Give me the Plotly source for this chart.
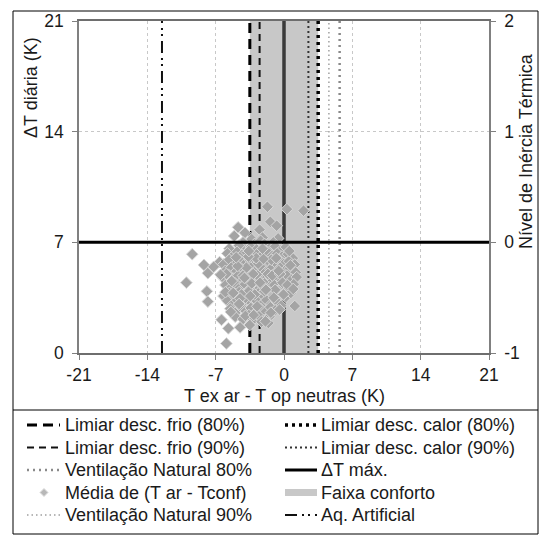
import plotly.graph_objects as go

# ---- data ----
x_ticks = [-21, -14, -7, 0, 7, 14, 21]
x_ticktext = ["-21", "-14", "-7", "0", "7", "14", "21"]
y_ticks = [0, 7, 14, 21]
y2_ticks = [-1, 0, 1, 2]
y2_ticktext = ["-1", "0", "1", "2"]

limiar_frio_80 = -3.5
limiar_frio_90 = -2.5
limiar_calor_90 = 2.5
limiar_calor_80 = 3.5
vent_nat_90 = 4.6
vent_nat_80 = 5.7
aq_artificial = -12.5
faixa_conforto = [-3.5, 3.5]
dt_max = 7
eixo_zero = 0

media_x = [
    -1.7, 0.3, 2.0, -1.4, -0.75, -4.7, -2.5, -4.0, -5.1, -2.2, -0.6, -3.3, -3.0, -1.1, -4.2, -2.4,
    -5.6, -4.6, -3.9, -3.4, -2.8, -2.0, -1.5, -0.9, -0.3, 0.2,
    -5.8, -5.3, -4.8, -4.3, -3.8, -3.2, -2.7, -2.2, -1.7, -1.2, -0.7, -0.2, 0.4, 0.9,
    -6.6, -6.2, -5.6, -5.0, -4.5, -4.0, -3.5, -3.0, -2.5, -2.0, -1.5, -1.0, -0.5, 0.0, 0.5, 1.1,
    -8.2, -7.2, -6.0, -5.4, -4.9, -4.4, -3.9, -3.4, -2.9, -2.4, -1.9, -1.4, -0.9, -0.4, 0.1, 0.6, 1.2,
    -7.8, -6.3, -5.7, -5.2, -4.7, -4.2, -3.7, -3.2, -2.7, -2.2, -1.7, -1.2, -0.7, -0.2, 0.3, 0.8, 1.3,
    -10.0, -6.0, -5.5, -5.0, -4.5, -4.0, -3.5, -3.0, -2.5, -2.0, -1.5, -1.0, -0.5, 0.0, 0.5, 1.0,
    -7.9, -6.2, -5.6, -5.1, -4.6, -4.1, -3.6, -3.1, -2.6, -2.1, -1.6, -1.1, -0.6, 0.2, 0.7,
    -7.8, -5.8, -5.3, -4.8, -4.3, -3.8, -3.3, -2.8, -2.3, -1.8, -1.3, -0.8, -0.3, 1.1,
    -5.5, -4.9, -4.4, -3.9, -3.4, -2.9, -2.4, -1.9, -1.4, -0.9,
    -6.4, -5.0, -4.2, -3.6, -3.0, -2.6, -2.0, -1.5,
    -5.7, -4.5, -3.5, -2.3, -1.6, -5.9,
    -9.4,
    -3.85, -3.15, -2.65, -1.65, -2.3, -3.3, -4.2, -1.2, -2.0, -3.0, -4.35, -0.9, -2.85, -1.3, -3.65, -4.75, -0.4, -2.1,
    -5.35, -4.05, -2.45, -0.15, 0.65, -5.9, -4.5, -3.45, -1.85, -0.55, 0.35, -6.0, -5.2, -2.75, -1.05,
    -4.9, -3.6, -2.2, -0.8, 0.55, -5.45, -3.95, -1.35, -0.05, -6.5, -4.6, -3.1, -1.9, -0.45, 0.95,
]
media_y = [
    9.25, 9.1, 9.0, 8.3, 8.05, 7.95, 7.8, 7.6, 7.4, 7.3, 7.25, 7.2, 6.9, 7.0, 7.0, 7.1,
    6.6, 6.8, 6.5, 6.7, 6.55, 6.9, 6.6, 6.75, 6.5, 6.7,
    6.3, 6.1, 6.4, 6.2, 6.35, 6.1, 6.3, 6.2, 6.4, 6.15, 6.3, 6.1, 6.25, 6.0,
    5.75, 5.6, 5.9, 5.6, 5.85, 5.65, 5.9, 5.6, 5.8, 5.55, 5.75, 5.6, 5.9, 5.65, 5.8, 5.6,
    5.57, 5.45, 5.2, 5.4, 5.15, 5.35, 5.1, 5.4, 5.2, 5.45, 5.1, 5.3, 5.05, 5.4, 5.2, 5.35, 5.1,
    5.05, 4.8, 4.95, 4.7, 4.9, 4.6, 4.85, 4.65, 4.9, 4.6, 4.8, 4.55, 4.85, 4.6, 4.9, 4.65, 4.8,
    4.45, 4.3, 4.1, 4.4, 4.15, 4.35, 4.05, 4.3, 4.1, 4.4, 4.15, 4.3, 4.0, 4.25, 4.1, 4.35,
    3.9, 3.6, 3.8, 3.55, 3.85, 3.6, 3.9, 3.65, 3.8, 3.55, 3.85, 3.6, 3.75, 3.55, 3.8,
    3.25, 3.3, 3.05, 3.35, 3.1, 3.4, 3.15, 3.3, 3.05, 3.35, 3.1, 3.3, 3.0, 2.97,
    2.8, 2.6, 2.9, 2.65, 2.85, 2.55, 2.8, 2.6, 2.9, 2.7,
    2.1, 2.3, 2.15, 2.4, 2.2, 2.35, 2.1, 2.3,
    1.56, 1.62, 1.77, 1.98, 1.9, 0.6,
    6.25,
    5.4, 5.0, 5.65, 5.0, 4.3, 4.4, 4.9, 4.9, 3.9, 3.7, 3.7, 4.0, 6.0, 5.9, 6.1, 5.5, 5.0, 5.95,
    4.55, 4.75, 4.45, 4.45, 5.55, 5.0, 3.45, 3.6, 4.0, 5.2, 4.3, 3.85, 3.8, 2.95, 3.5,
    6.05, 6.45, 6.6, 6.0, 6.45, 2.6, 2.35, 2.55, 3.7, 4.95, 3.1, 2.4, 2.0, 2.75, 4.05,
]

# legend labels: (label, column, row)
legend_items = [
    ("Limiar desc. frio (80%)", 0, 0),
    ("Limiar desc. frio (90%)", 0, 1),
    ("Ventilação Natural 80%", 0, 2),
    ("Média de (T ar - Tconf)", 0, 3),
    ("Ventilação Natural 90%", 0, 4),
    ("Limiar desc. calor (80%)", 1, 0),
    ("Limiar desc. calor (90%)", 1, 1),
    ("ΔT máx.", 1, 2),
    ("Faixa conforto", 1, 3),
    ("Aq. Artificial", 1, 4),
]

Y_RANGE = [0, 21]
Y2_RANGE = [-1, 2]
X_RANGE = [-21, 21]

# ---- styles ----
C_BAND = "#c8c8c8"
STYLES = {
    "Limiar desc. frio (80%)": dict(color="#000000", width=3, dash="10px,6px"),
    "Limiar desc. frio (90%)": dict(color="#111111", width=2, dash="7px,5px"),
    "Ventilação Natural 80%": dict(color="#8a8a8a", width=2.5, dash="2px,4px"),
    "Ventilação Natural 90%": dict(color="#a0a0a0", width=1.5, dash="1.5px,3px"),
    "Limiar desc. calor (80%)": dict(color="#000000", width=3.5, dash="3px,4px"),
    "Limiar desc. calor (90%)": dict(color="#333333", width=2, dash="2px,3px"),
    "ΔT máx.": dict(color="#000000", width=3, dash="solid"),
    "Faixa conforto": dict(color=C_BAND, width=7, dash="solid"),
    "Aq. Artificial": dict(color="#111111", width=2, dash="12px,5px,2px,4px,2px,5px"),
}
MARKER = dict(symbol="diamond", size=9, color="#a4a4a4", line=dict(color="#d8d8d8", width=1))

fig = go.Figure()

# comfort band
fig.add_trace(go.Scatter(
    x=[faixa_conforto[0], faixa_conforto[1], faixa_conforto[1], faixa_conforto[0]],
    y=[Y_RANGE[0], Y_RANGE[0], Y_RANGE[1], Y_RANGE[1]],
    fill="toself", fillcolor=C_BAND, mode="lines", line=dict(width=0),
    name="Faixa conforto", showlegend=False, hoverinfo="skip"))

vertical = [
    (aq_artificial, "Aq. Artificial"),
    (vent_nat_90, "Ventilação Natural 90%"),
    (vent_nat_80, "Ventilação Natural 80%"),
    (limiar_calor_90, "Limiar desc. calor (90%)"),
    (limiar_calor_80, "Limiar desc. calor (80%)"),
    (limiar_frio_90, "Limiar desc. frio (90%)"),
    (limiar_frio_80, "Limiar desc. frio (80%)"),
]
for xv, name in vertical:
    fig.add_trace(go.Scatter(x=[xv, xv], y=Y_RANGE, mode="lines", name=name,
                             line=STYLES[name], showlegend=False))

fig.add_trace(go.Scatter(x=[eixo_zero, eixo_zero], y=Y_RANGE, mode="lines",
                         line=dict(color="#3a3a3a", width=3.5), showlegend=False,
                         hoverinfo="skip"))

fig.add_trace(go.Scatter(x=media_x, y=media_y, mode="markers",
                         name="Média de (T ar - Tconf)", marker=MARKER, showlegend=False))

fig.add_trace(go.Scatter(x=X_RANGE, y=[dt_max, dt_max], mode="lines", name="ΔT máx.",
                         line=STYLES["ΔT máx."], showlegend=False))

fig.add_trace(go.Scatter(x=[None], y=[None], yaxis="y2", showlegend=False))

W, H = 540, 535
L, R, T, B = 79, 51, 21, 182
pw, ph = W - L - R, H - T - B


def px(x):
    return (x - L) / pw


def py(y):
    return (H - B - y) / ph


FONT = "Liberation Sans, Arial, sans-serif"
FS = 18
FS_TICK = 17.5
TXT = "#1a1a1a"

axis_common = dict(zeroline=False, showline=True, linewidth=1.5,
                   ticks="outside", ticklen=5, tickcolor="#808080",
                   tickfont=dict(family=FONT, size=FS_TICK, color=TXT))

fig.update_layout(
    width=W, height=H,
    margin=dict(l=L, r=R, t=T, b=B),
    paper_bgcolor="white", plot_bgcolor="white",
    font=dict(family=FONT, size=FS, color=TXT),
    showlegend=False,
    xaxis=dict(range=X_RANGE, tickvals=x_ticks, ticktext=x_ticktext, showgrid=True,
               gridcolor="#c8c8c8", griddash="dot", gridwidth=1, mirror=True,
               linecolor="#6e6e6e", ticklabelstandoff=0, **axis_common),
    yaxis=dict(range=Y_RANGE, tickvals=y_ticks, showgrid=True, gridcolor="#c8c8c8",
               griddash="dot", gridwidth=1, linecolor="#808080", ticklabelstandoff=5,
               **axis_common),
    yaxis2=dict(range=Y2_RANGE, tickvals=y2_ticks, ticktext=y2_ticktext, overlaying="y",
                side="right", showgrid=False, linecolor="#808080", ticklabelstandoff=5,
                **axis_common),
)

ann_common = dict(xref="paper", yref="paper", showarrow=False, xanchor="center",
                  yanchor="middle", font=dict(size=FS, color=TXT))
fig.add_annotation(text="T ex ar - T op neutras (K)", x=px(284), y=py(396), **ann_common)
fig.add_annotation(text="ΔT diária (K)", textangle=-90, x=px(31), y=py(88), **ann_common)
fig.add_annotation(text="Nível de Inércia Térmica", textangle=-90, x=px(526), y=py(151),
                   **ann_common)

# chart border and legend separator
fig.add_shape(type="rect", xref="paper", yref="paper", x0=px(13), x1=px(538),
              y0=py(534), y1=py(11), line=dict(color="#000000", width=1), layer="above")
fig.add_shape(type="line", xref="paper", yref="paper", x0=px(13), x1=px(538),
              y0=py(410), y1=py(410), line=dict(color="#000000", width=1))

# ---- legend (drawn) ----
col_sym = [(27, 60), (285, 317)]
col_txt = [63, 319]
row_y = [425, 447.5, 470, 492.5, 515]
for label, c, r in legend_items:
    yy = py(row_y[r])
    x0, x1 = col_sym[c]
    if label == "Média de (T ar - Tconf)":
        cx, cy, d = 44, row_y[r], 4
        path = "M {a},{b} L {c},{dd} L {a},{e} L {f},{dd} Z".format(
            a=px(cx), b=py(cy - d), c=px(cx + d), dd=py(cy), e=py(cy + d), f=px(cx - d))
        fig.add_shape(type="path", xref="paper", yref="paper", path=path,
                      fillcolor="#b8b8b8", line=dict(color="#dcdcdc", width=1))
    else:
        st = STYLES[label]
        fig.add_shape(type="line", xref="paper", yref="paper", x0=px(x0), x1=px(x1),
                      y0=yy, y1=yy, line=dict(color=st["color"], width=st["width"],
                                              dash=st["dash"]))
    fig.add_annotation(text=label, xref="paper", yref="paper", x=px(col_txt[c]), y=yy,
                       xanchor="left", yanchor="middle", showarrow=False,
                       font=dict(size=FS, color=TXT))

fig.write_html("out.html", config={"displayModeBar": False},
               post_script="document.body.style.margin='0px';")
